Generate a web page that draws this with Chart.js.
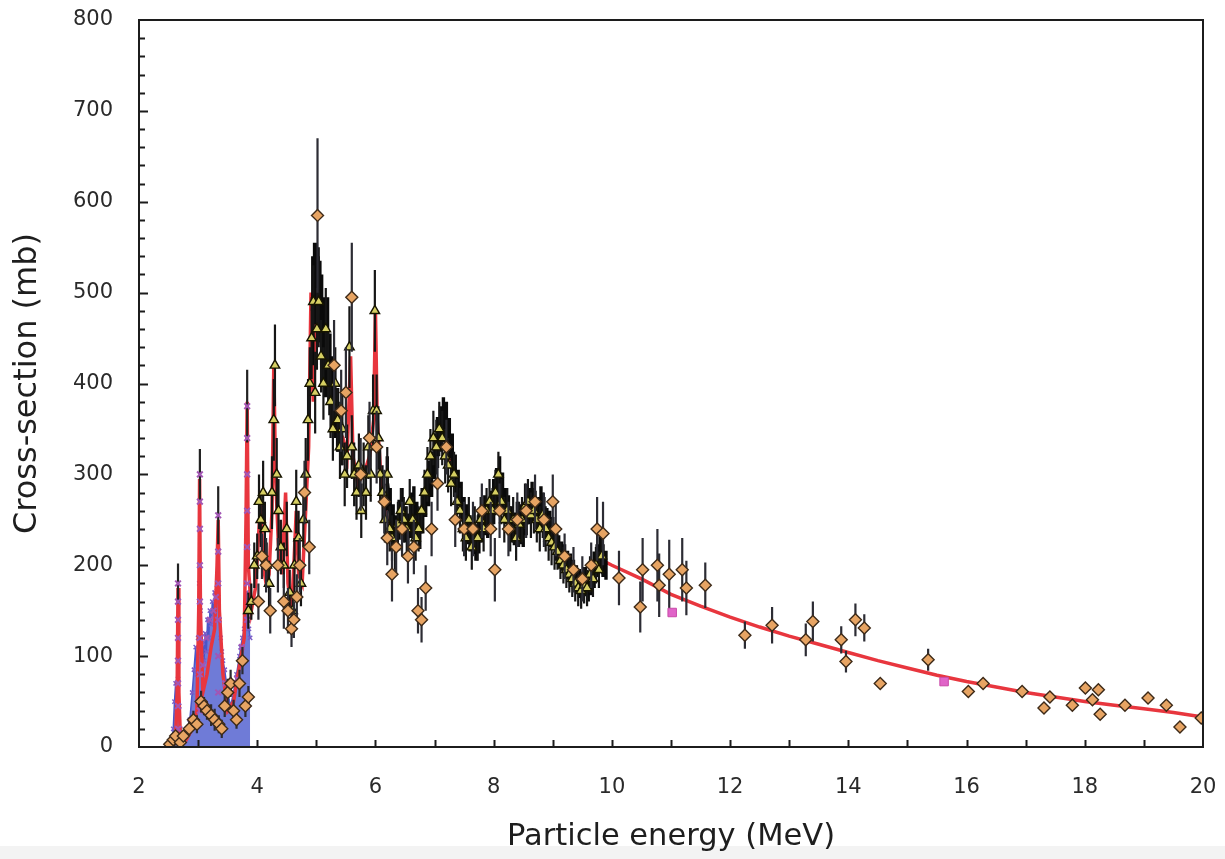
<!DOCTYPE html>
<html>
<head>
<meta charset="utf-8">
<title>Cross-section vs particle energy</title>
<script src="https://cdn.jsdelivr.net/npm/chart.js"></script>
<style>
  html, body { margin: 0; padding: 0; background: #fff; }
  #wrap { width: 1225px; height: 859px; }
</style>
</head>
<body>
<div id="wrap"><canvas id="chart" width="1225" height="859"></canvas></div>
<script>
// ---- values ----
const xTickValues = [2, 4, 6, 8, 10, 12, 14, 16, 18, 20];
const yTickValues = [0, 100, 200, 300, 400, 500, 600, 700, 800];

// evaluated curve (red)
const redX = [2.45, 2.55, 2.62, 2.645, 2.66, 2.675, 2.70, 2.80, 2.90, 2.98, 3.01, 3.025, 3.04, 3.08, 3.15, 3.22, 3.28, 3.32, 3.34, 3.36, 3.42, 3.50, 3.60, 3.70, 3.78, 3.81, 3.83, 3.85, 3.90, 3.97,
  4.02, 4.06, 4.10, 4.15, 4.20, 4.25, 4.28, 4.31, 4.36, 4.42, 4.48, 4.52, 4.58, 4.62, 4.66, 4.70, 4.76, 4.82, 4.87, 4.91, 4.95, 4.99, 5.03, 5.07, 5.12, 5.20, 5.28, 5.36, 5.45, 5.52, 5.58, 5.62, 5.70, 5.80, 5.90, 5.97,
  6.00, 6.03, 6.10, 6.20, 6.30, 6.45, 6.60, 6.75, 6.90, 7.05, 7.15, 7.30, 7.50, 7.70, 7.90, 8.10, 8.30, 8.50, 8.70, 8.90, 9.10, 9.30, 9.50, 9.70, 9.85,
  10.0, 10.5, 11.0, 11.5, 12.0, 12.5, 13.0, 13.5, 14.0, 14.5, 15.0, 15.5, 16.0, 16.5, 17.0, 17.5, 18.0, 18.5, 19.0, 19.5, 20.0];
const redY = [0, 3, 10, 60, 175, 60, 10, 8, 20, 40, 150, 295, 150, 60, 80, 110, 130, 200, 250, 150, 80, 40, 50, 90, 120, 250, 380, 200, 150, 175,
  230, 270, 200, 180, 190, 260, 420, 300, 220, 190, 280, 180, 150, 200, 260, 190, 180, 260, 330, 500, 380, 460, 530, 470, 430, 410, 380, 350, 340, 320, 430, 320, 290, 300, 320, 360,
  480, 360, 290, 250, 235, 250, 255, 245, 290, 330, 345, 310, 255, 230, 255, 285, 245, 245, 262, 245, 215, 193, 178, 192, 205,
  200, 185, 168, 155, 143, 132, 122, 113, 104, 95, 87, 79, 72, 66, 60, 55, 50, 46, 42, 38, 33];

// dense low-energy data (blue crosses)
const blueX = [2.55, 2.58, 2.60, 2.62, 2.64, 2.66, 2.68, 2.70, 2.72, 2.75, 2.78, 2.82, 2.86, 2.90, 2.93, 2.96, 2.98, 3.00, 3.02, 3.04, 3.06, 3.08, 3.10, 3.12, 3.14, 3.16, 3.18, 3.20, 3.22, 3.24,
  3.26, 3.28, 3.30, 3.32, 3.34, 3.36, 3.38, 3.40, 3.42, 3.45, 3.50, 3.55, 3.60, 3.65, 3.70, 3.72, 3.75, 3.78, 3.80, 3.82, 3.84, 3.86, 3.88];
const blueY = [5, 20, 50, 70, 40, 75, 45, 20, 10, 15, 8, 15, 30, 60, 85, 110, 80, 120, 180, 150, 100, 115, 95, 125, 105, 140, 120, 150, 135, 160,
  145, 170, 160, 175, 165, 140, 120, 105, 95, 85, 60, 45, 60, 80, 100, 110, 120, 130, 135, 170, 140, 130, 120];

// crosses stacked along the narrow resonances (purple)
const purpleX = [2.66, 2.66, 2.66, 2.66, 2.66, 2.66, 2.66, 2.66, 3.03, 3.03, 3.03, 3.03, 3.03, 3.03, 3.03, 3.03, 3.34, 3.34, 3.34, 3.34, 3.34, 3.34, 3.83, 3.83, 3.83, 3.83, 3.83, 3.83, 3.83,
  3.08, 3.14, 3.20, 3.26, 3.30, 3.46, 3.56, 3.66, 3.74];
const purpleY = [20, 45, 70, 95, 120, 140, 160, 180, 40, 80, 120, 160, 200, 240, 270, 300, 60, 100, 140, 180, 215, 255, 140, 180, 220, 260, 300, 340, 375,
  90, 120, 140, 150, 165, 70, 40, 75, 110];
const purpleErr = [0, 0, 0, 0, 0, 0, 0, 22, 0, 0, 0, 0, 0, 0, 0, 28, 0, 0, 0, 0, 0, 32, 0, 0, 0, 0, 0, 0, 40,
  0, 0, 0, 0, 0, 0, 0, 0, 0];

// high-resolution data (black)
const blackX = [4.94, 4.97, 5.00, 5.03, 5.06, 5.09, 5.12, 5.15, 5.19, 5.23, 5.27, 5.31, 5.36, 5.42, 5.80,
  6.20, 6.25, 6.30, 6.35, 6.40, 6.45, 6.50, 6.55, 6.60, 6.65, 6.70, 6.75, 6.80, 6.85, 6.90, 6.95, 7.00, 7.05, 7.10, 7.15, 7.20, 7.25, 7.30, 7.35, 7.40, 7.45,
  7.50, 7.55, 7.60, 7.65, 7.70, 7.75, 7.80, 7.85, 7.90, 7.95, 8.00, 8.05, 8.10, 8.15, 8.20, 8.25, 8.30, 8.35, 8.40, 8.45, 8.50, 8.55, 8.60, 8.65, 8.70,
  8.75, 8.80, 8.85, 8.90, 8.95, 9.00, 9.05, 9.10, 9.15, 9.20, 9.25, 9.30, 9.35, 9.40, 9.45, 9.50, 9.55, 9.60, 9.65, 9.70, 9.75, 9.80, 9.85, 9.90];
const blackY = [480, 510, 520, 500, 490, 470, 450, 430, 440, 410, 390, 380, 360, 345, null,
  290, 260, 245, 235, 250, 260, 245, 235, 255, 265, 250, 240, 260, 275, 290, 300, 320, 335, 350, 360, 355, 340, 320, 300, 285, 270,
  255, 245, 235, 230, 225, 235, 245, 255, 250, 260, 270, 285, 295, 280, 265, 255, 245, 240, 250, 245, 240, 255, 265, 270, 262,
  255, 265, 255, 245, 240, 235, 225, 215, 210, 205, 200, 195, 190, 185, 180, 178, 182, 175, 185, 195, 205, 215, 205, 200];
const blackErr = [60, 45, 35, 50, 45, 50, 45, 45, 55, 45, 40, 40, 35, 35, 0,
  30, 25, 22, 20, 22, 25, 20, 22, 25, 22, 20, 22, 25, 22, 25, 25, 25, 28, 25, 25, 25, 22, 25, 22, 20, 22,
  20, 22, 20, 18, 20, 22, 20, 22, 20, 22, 25, 22, 25, 22, 20, 22, 20, 18, 20, 22, 20, 22, 20, 22, 20,
  20, 22, 20, 18, 20, 18, 20, 18, 16, 18, 16, 18, 16, 15, 16, 15, 16, 15, 18, 20, 18, 22, 18, 16];

// triangles
const triX = [3.85, 3.90, 3.95, 4.00, 4.03, 4.06, 4.10, 4.13, 4.16, 4.20, 4.25, 4.28, 4.30, 4.33, 4.36, 4.40, 4.45, 4.50, 4.55, 4.60, 4.63, 4.66, 4.70, 4.74, 4.78, 4.82, 4.86, 4.89, 4.92, 4.95,
  4.98, 5.01, 5.04, 5.08, 5.12, 5.16, 5.20, 5.24, 5.28, 5.32, 5.36, 5.40, 5.44, 5.48, 5.52, 5.56, 5.60, 5.64, 5.68, 5.72, 5.76, 5.80, 5.84, 5.88, 5.92, 5.96, 5.99, 6.02, 6.05, 6.08,
  6.12, 6.16, 6.20, 6.24, 6.28, 6.33, 6.38, 6.43, 6.48, 6.53, 6.58, 6.63, 6.68, 6.73, 6.78, 6.83, 6.88, 6.93, 6.98, 7.03, 7.08, 7.13, 7.18, 7.23, 7.28, 7.33, 7.38, 7.43, 7.48, 7.53,
  7.58, 7.63, 7.68, 7.73, 7.78, 7.83, 7.88, 7.93, 7.98, 8.03, 8.08, 8.13, 8.18, 8.23, 8.28, 8.33, 8.38, 8.43, 8.48, 8.53, 8.58, 8.63, 8.68, 8.73, 8.78, 8.83, 8.88, 8.93, 8.98,
  9.03, 9.08, 9.13, 9.18, 9.23, 9.28, 9.33, 9.38, 9.43, 9.48, 9.53, 9.58, 9.63, 9.68, 9.73, 9.78, 9.83];
const triY = [150, 160, 200, 210, 270, 250, 280, 240, 200, 180, 280, 360, 420, 300, 260, 220, 200, 240, 170, 150, 200, 270, 230, 180, 250, 300, 360, 400, 450, 490,
  390, 460, 490, 430, 400, 460, 420, 380, 350, 400, 360, 330, 350, 300, 320, 440, 330, 300, 280, 310, 260, 300, 280, 330, 300, 370, 480, 370, 340, 300,
  280, 250, 300, 240, 230, 220, 245, 260, 250, 240, 270, 250, 230, 240, 260, 280, 300, 320, 340, 330, 350, 340, 320, 310, 290, 300, 270, 260, 240, 230,
  250, 220, 240, 230, 250, 240, 260, 270, 260, 280, 300, 270, 250, 260, 240, 250, 230, 245, 250, 265, 270, 255, 260, 250, 240, 255, 240, 230, 225,
  220, 215, 205, 200, 195, 190, 185, 180, 175, 172, 178, 175, 190, 185, 200, 195, 210];
const triErr = [20, 20, 25, 25, 30, 30, 35, 30, 25, 25, 40, 45, 45, 40, 35, 30, 25, 30, 25, 20, 30, 35, 30, 25, 30, 40, 45, 40, 45, 40,
  45, 45, 50, 40, 40, 45, 40, 40, 35, 40, 35, 35, 40, 35, 35, 45, 35, 35, 30, 35, 30, 35, 30, 35, 30, 40, 45, 40, 35, 30,
  30, 25, 30, 25, 25, 25, 25, 25, 25, 25, 25, 25, 25, 25, 25, 25, 30, 30, 30, 30, 30, 30, 30, 30, 25, 25, 25, 25, 25, 25,
  25, 25, 25, 25, 25, 25, 25, 25, 25, 25, 25, 25, 25, 25, 25, 25, 25, 25, 25, 25, 25, 25, 25, 25, 25, 25, 25, 25, 25,
  25, 20, 20, 20, 20, 20, 20, 20, 20, 20, 20, 20, 20, 20, 20, 20, 20];

// diamonds
const diaX = [2.52, 2.58, 2.62, 2.70, 2.75, 2.85, 2.92, 2.98, 3.05, 3.10, 3.15, 3.22, 3.28, 3.35, 3.40, 3.45, 3.50, 3.55, 3.60, 3.65, 3.70, 3.75, 3.80, 3.85,
  4.02, 4.08, 4.15, 4.22, 4.35, 4.45, 4.52, 4.58, 4.62, 4.67, 4.72, 4.80, 4.88, 5.02, 5.30, 5.42, 5.50, 5.60, 5.75, 5.90, 6.02, 6.15, 6.20, 6.28, 6.35, 6.45,
  6.55, 6.65, 6.72, 6.78, 6.85, 6.95, 7.05, 7.20, 7.35, 7.50, 7.65, 7.80, 7.95, 8.02, 8.10, 8.25, 8.40, 8.55, 8.70, 8.85, 9.00, 9.05, 9.20, 9.35, 9.50, 9.65, 9.75, 9.85,
  10.12, 10.48, 10.52, 10.77, 10.80, 10.97, 11.19, 11.26, 11.58, 12.25, 12.71, 13.28, 13.40, 13.88, 13.96, 14.12, 14.27, 14.54, 15.35, 16.03, 16.28, 16.94,
  17.31, 17.41, 17.79, 18.01, 18.13, 18.23, 18.26, 18.68, 19.07, 19.38, 19.61, 19.97];
const diaY = [3, 8, 12, 5, 12, 20, 30, 25, 50, 45, 40, 35, 30, 25, 20, 45, 60, 70, 40, 30, 70, 95, 45, 55,
  160, 210, 200, 150, 200, 160, 150, 130, 140, 165, 200, 280, 220, 585, 420, 370, 390, 495, 300, 340, 330, 270, 230, 190, 220, 240,
  210, 220, 150, 140, 175, 240, 290, 330, 250, 240, 240, 260, 240, 195, 260, 240, 250, 260, 270, 250, 270, 240, 210, 195, 185, 200, 240, 235,
  186, 154, 195, 200, 178, 190, 195, 175, 178, 123, 134, 118, 138, 118, 94, 140, 131, 70, 96, 61, 70, 61,
  43, 55, 46, 65, 52, 63, 36, 46, 54, 46, 22, 32];
const diaErr = [4, 6, 6, 5, 6, 8, 10, 10, 12, 10, 10, 12, 12, 10, 10, 12, 15, 15, 12, 10, 15, 15, 12, 12,
  20, 25, 30, 25, 30, 30, 25, 20, 20, 25, 30, 35, 30, 85, 50, 45, 50, 60, 40, 40, 40, 35, 30, 30, 30, 30,
  30, 30, 25, 25, 25, 30, 30, 30, 30, 30, 30, 30, 30, 35, 30, 30, 30, 30, 30, 30, 30, 30, 25, 25, 25, 25, 35, 35,
  30, 28, 35, 40, 35, 38, 35, 30, 25, 15, 20, 18, 22, 15, 12, 18, 15, 0, 12, 0, 6, 0,
  0, 0, 0, 0, 0, 0, 0, 0, 0, 0, 0, 0];

// squares (magenta)
const sqX = [11.02, 15.62];
const sqY = [148, 72];

function pts(xs, ys) {
  return xs.map((x, i) => ({ x: x, y: ys[i] }));
}

// error bars drawn just before each dataset's own markers
const errorBars = {
  id: 'errorBars',
  beforeDatasetDraw(chart, args) {
    const ds = chart.data.datasets[args.index];
    if (!ds.errors) return;
    const { ctx, chartArea: a, scales: { y } } = chart;
    ctx.save();
    ctx.beginPath();
    ctx.rect(a.left, a.top, a.right - a.left, a.bottom - a.top);
    ctx.clip();
    ctx.strokeStyle = ds.errorColor;
    ctx.lineWidth = ds.errorWidth;
    ctx.beginPath();
    args.meta.data.forEach((pt, i) => {
      const e = ds.errors[i];
      const v = ds.data[i].y;
      if (!e || v == null) return;
      ctx.moveTo(pt.x, y.getPixelForValue(v - e));
      ctx.lineTo(pt.x, y.getPixelForValue(v + e));
    });
    ctx.stroke();
    ctx.restore();
  }
};

// white page, grey strip at the very bottom, frame with inward ticks
const frame = {
  id: 'frame',
  beforeDraw(chart) {
    const ctx = chart.ctx;
    ctx.save();
    ctx.fillStyle = '#ffffff';
    ctx.fillRect(0, 0, chart.width, chart.height);
    ctx.fillStyle = '#f3f3f3';
    ctx.fillRect(0, 846, chart.width, chart.height - 846);
    ctx.restore();
  },
  afterDatasetsDraw(chart) {
    const { ctx, chartArea: a, scales: { x, y } } = chart;
    ctx.save();
    ctx.strokeStyle = '#1c1c1c';
    ctx.lineWidth = 2;
    ctx.beginPath();
    for (let v = 3; v < 20; v += 1) {
      const px = Math.round(x.getPixelForValue(v)) + 0.5;
      ctx.moveTo(px, a.bottom);
      ctx.lineTo(px, a.bottom - 7);
    }
    for (let v = 20; v < 800; v += 20) {
      const py = Math.round(y.getPixelForValue(v)) + 0.5;
      ctx.moveTo(a.left, py);
      ctx.lineTo(a.left + (v % 100 === 0 ? 9 : 6), py);
    }
    ctx.stroke();
    ctx.strokeRect(a.left, a.top, a.right - a.left, a.bottom - a.top);
    ctx.restore();
  }
};

const tickFont = { family: 'DejaVu Sans', size: 21 };

new Chart(document.getElementById('chart'), {
  type: 'scatter',
  data: {
    datasets: [
      {
        label: 'squares', data: pts(sqX, sqY),
        pointStyle: 'rect', pointRadius: 6, backgroundColor: '#e064c8', borderColor: '#c84aa8', borderWidth: 1
      },
      {
        label: 'diamonds', data: pts(diaX, diaY), errors: diaErr, errorColor: '#2c2c34', errorWidth: 2.2,
        pointStyle: 'rectRot', pointRadius: 6, backgroundColor: '#e7a463', borderColor: '#3d2a18', borderWidth: 1.4
      },
      {
        label: 'triangles', data: pts(triX, triY), errors: triErr, errorColor: '#161616', errorWidth: 2.2,
        pointStyle: 'triangle', pointRadius: 5.5, backgroundColor: '#d6cf62', borderColor: '#161400', borderWidth: 1.4
      },
      {
        label: 'black', data: pts(blackX, blackY), errors: blackErr, errorColor: '#0a0a0a', errorWidth: 3.4,
        showLine: true, spanGaps: false, borderColor: '#0a0a0a', borderWidth: 4, pointRadius: 0
      },
      {
        label: 'purple', data: pts(purpleX, purpleY), errors: purpleErr, errorColor: '#222222', errorWidth: 2.2,
        pointStyle: 'crossRot', pointRadius: 4, borderColor: '#a256b4', borderWidth: 2
      },
      {
        label: 'red', data: pts(redX, redY),
        showLine: true, borderColor: '#e8363e', borderWidth: 3.5, pointRadius: 0, tension: 0
      },
      {
        label: 'blue', data: pts(blueX, blueY),
        showLine: true, borderColor: '#4a56c8', borderWidth: 1.5, fill: 'origin', backgroundColor: 'rgba(70, 86, 204, 0.78)',
        pointStyle: 'crossRot', pointRadius: 3, pointBorderColor: '#7a5cc8', pointBorderWidth: 1.5
      }
    ]
  },
  options: {
    responsive: false,
    animation: false,
    layout: { padding: { left: 0, top: 20, right: 22, bottom: 0 } },
    plugins: { legend: { display: false }, tooltip: { enabled: false } },
    scales: {
      x: {
        type: 'linear', min: 2, max: 20,
        afterBuildTicks: s => { s.ticks = xTickValues.map(v => ({ value: v })); },
        afterFit: s => { s.height = 112; },
        grid: { display: false, drawTicks: true, tickLength: 26 },
        border: { display: false },
        ticks: { font: tickFont, color: '#2a2a2a', padding: 2, maxRotation: 0 },
        title: { display: true, text: 'Particle energy (MeV)', font: { family: 'DejaVu Sans', size: 30.5 }, color: '#1e1e1e', padding: { top: 0, bottom: 4 } }
      },
      y: {
        type: 'linear', min: 0, max: 800,
        afterBuildTicks: s => { s.ticks = yTickValues.map(v => ({ value: v })); },
        afterFit: s => { s.width = 139; },
        grid: { display: false, drawTicks: true, tickLength: 24 },
        border: { display: false },
        ticks: { font: tickFont, color: '#2a2a2a', padding: 2 },
        title: { display: true, text: 'Cross-section (mb)', font: { family: 'DejaVu Sans', size: 32 }, color: '#1e1e1e', padding: { top: 8, bottom: 0 } }
      }
    }
  },
  plugins: [errorBars, frame]
});
</script>
</body>
</html>
